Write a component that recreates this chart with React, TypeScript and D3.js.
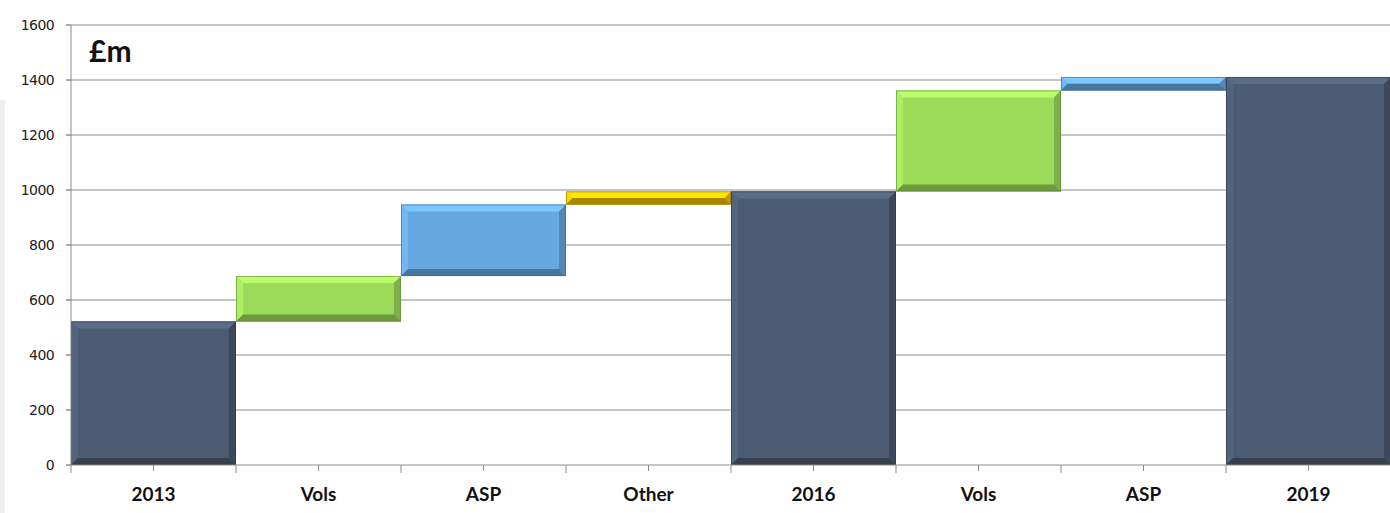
import React from 'react';
import * as d3 from 'd3';

const categories = ['2013', 'Vols', 'ASP', 'Other', '2016', 'Vols', 'ASP', '2019'];
const kinds = ['total', 'vols', 'asp', 'other', 'total', 'vols', 'asp', 'total'];
// totals hold the bar height, steps hold the change from the previous bar
const values = [522, 165, 260, 48, 995, 367, 49, 1411];
const yTicks = [0, 200, 400, 600, 800, 1000, 1200, 1400, 1600];

const colors: Record<string, string> = {
  total: '#4b5b71',
  vols: '#9cdb5a',
  asp: '#68a8e0',
  other: '#efc200',
};

const W = 1390;
const H = 513;
const margin = { top: 25, right: 0, bottom: 48, left: 71 };

const Bar = ({ x0, x1, y0, y1, color }) => {
  const w = x1 - x0;
  const h = y1 - y0;
  const b = Math.min(7, h / 2, w / 2);
  const c = d3.color(color);
  const light = c.brighter(0.5).formatHex();
  const lighter = c.brighter(0.25).formatHex();
  const dark = c.darker(0.6).formatHex();
  const darker = c.darker(1.0).formatHex();
  const pts = (arr) => arr.map(p => p.join(',')).join(' ');
  return (
    <g>
      <rect x={x0} y={y0} width={w} height={h} fill={color} />
      <polygon points={pts([[x0, y0], [x1, y0], [x1 - b, y0 + b], [x0 + b, y0 + b]])} fill={light} />
      <polygon points={pts([[x0, y0], [x0 + b, y0 + b], [x0 + b, y1 - b], [x0, y1]])} fill={lighter} />
      <polygon points={pts([[x1, y0], [x1, y1], [x1 - b, y1 - b], [x1 - b, y0 + b]])} fill={dark} />
      <polygon points={pts([[x0, y1], [x1, y1], [x1 - b, y1 - b], [x0 + b, y1 - b]])} fill={darker} />
      <rect x={x0 + 0.5} y={y0 + 0.5} width={w - 1} height={h - 1} fill="none" stroke={c.darker(1.4).formatHex()} strokeWidth={1} strokeOpacity={0.6} />
    </g>
  );
};

export default function App() {
  const x = d3.scaleBand<number>()
    .domain(categories.map((_, i) => i))
    .range([margin.left, W - margin.right + 1])
    .padding(0);

  const y = d3.scaleLinear()
    .domain([0, 1600])
    .range([H - margin.bottom, margin.top]);

  let running = 0;
  const bars = values.map((v, i) => {
    if (kinds[i] === 'total') {
      running = v;
      return { i, lo: 0, hi: v, kind: kinds[i] };
    }
    const lo = running;
    running += v;
    return { i, lo, hi: running, kind: kinds[i] };
  });

  const bw = x.bandwidth();
  const y0 = y(0);

  return (
    <svg width={W} height={H} style={{ position: 'absolute', left: 0, top: 0, background: '#fff' }}
      fontFamily="'DejaVu Sans', sans-serif">
      <rect x={0} y={100} width={5} height={H - 100} fill="#efefef" />
      {yTicks.map(t => (
        <g key={t}>
          {t > 0 && <line x1={margin.left - 5} x2={W} y1={y(t)} y2={y(t)} stroke="#8c8c8c" strokeWidth={1} />}
          <line x1={margin.left - 5} x2={margin.left} y1={y(t)} y2={y(t)} stroke="#8c8c8c" />
          <text x={54} y={y(t)} dy="0.35em" textAnchor="end" fontSize={14} fill="#222" letterSpacing={-0.6}>{t}</text>
        </g>
      ))}
      {bars.map(d => (
        <Bar key={d.i} x0={x(d.i)} x1={x(d.i) + bw} y0={y(d.hi)} y1={y(d.lo)} color={colors[d.kind]} />
      ))}
      <line x1={margin.left} x2={margin.left} y1={margin.top} y2={y0 + 8} stroke="#8c8c8c" />
      <line x1={margin.left - 5} x2={W} y1={y0} y2={y0} stroke="#8c8c8c" />
      {categories.map((_, i) => (
        <g key={i}>
          <line x1={x(i) + bw} x2={x(i) + bw} y1={y0} y2={y0 + 8} stroke="#8c8c8c" />
          <line x1={x(i) + bw / 2} x2={x(i) + bw / 2} y1={y0} y2={y0 + 6} stroke="#8c8c8c" />
        </g>
      ))}
      {categories.map((c, i) => (
        <text key={i} x={x(i) + bw / 2} y={501} textAnchor="middle" fontSize={19} fontWeight="bold"
          fontFamily="Lato, sans-serif" fill="#111">{c}</text>
      ))}
      <text x={89} y={62} fontSize={30} fontWeight="bold" fontFamily="Lato, sans-serif" fill="#111">£m</text>
    </svg>
  );
}
